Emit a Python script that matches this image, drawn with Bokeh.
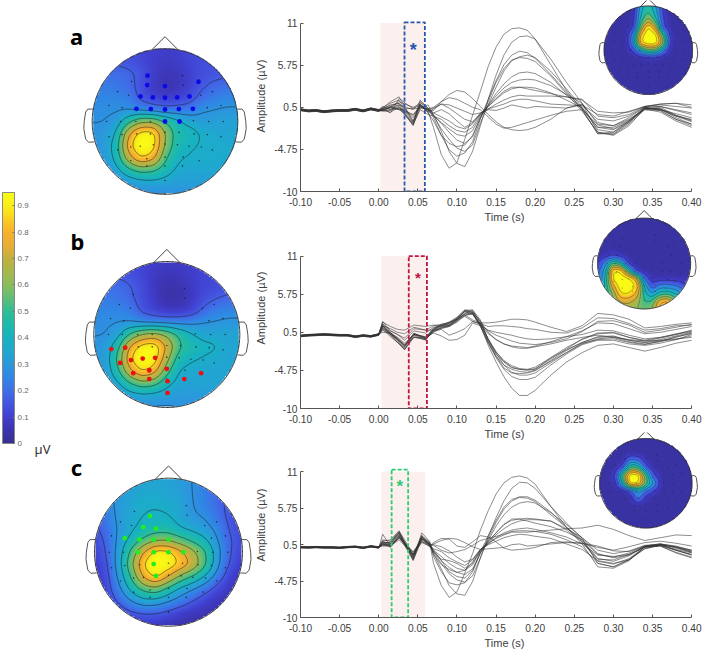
import numpy as np
from bokeh.plotting import figure
from bokeh.layouts import row, column
from bokeh.embed import file_html
from bokeh.resources import INLINE
from bokeh.core.properties import value
from bokeh.models import (Range1d, LinearColorMapper, ColorBar, FixedTicker,
                          NumeralTickFormatter)

# ---------- data ----------
COLOR_STOPS = [0, .05, .1, .15, .2, .25, .3, .35, .4, .45, .5, .55, .6, .65, .7, .75, .8, .85, .9, .95]
COLOR_HEX = ["#35308f", "#3c34b0", "#4040d0", "#4455e0", "#3f6fe8", "#2f88e4", "#2b98dc", "#1fa8cf",
             "#17b3c0", "#1fbaa9", "#2fbd95", "#5fbd78", "#8abd5c", "#a8b74a", "#c0b040", "#e8ae35",
             "#f8b02d", "#fbcf22", "#f9ee18", "#f9fb15"]
CB_TICKS = [0, .1, .2, .3, .4, .5, .6, .7, .8, .9]

MAP_A = [
 [.12,.12,.12,.12,.11,.10,.09,.10,.12,.13,.14,.15,.15],
 [.15,.15,.15,.14,.12,.09,.08,.09,.11,.13,.14,.15,.15],
 [.19,.19,.19,.18,.15,.09,.06,.07,.10,.13,.14,.15,.16],
 [.22,.22,.21,.19,.14,.08,.05,.06,.10,.15,.18,.19,.20],
 [.24,.24,.24,.22,.14,.10,.08,.09,.12,.19,.22,.24,.24],
 [.26,.26,.26,.26,.23,.21,.19,.20,.21,.26,.27,.28,.28],
 [.27,.27,.30,.45,.58,.58,.48,.40,.33,.30,.31,.32,.32],
 [.28,.29,.37,.72,.90,.90,.60,.43,.42,.36,.34,.33,.33],
 [.28,.30,.42,.80,.95,.90,.58,.42,.38,.36,.35,.35,.34],
 [.27,.29,.40,.68,.85,.78,.50,.38,.36,.35,.35,.34,.33],
 [.26,.27,.33,.45,.52,.50,.42,.35,.33,.34,.34,.33,.32],
 [.24,.25,.27,.30,.33,.34,.33,.31,.31,.31,.30,.30,.30],
 [.22,.22,.22,.24,.25,.26,.26,.27,.27,.27,.27,.27,.27]]
MAP_B = [
 [.13,.13,.13,.12,.11,.09,.08,.08,.10,.11,.12,.13,.13],
 [.15,.15,.15,.14,.11,.08,.06,.07,.09,.11,.12,.13,.13],
 [.19,.19,.19,.17,.13,.07,.04,.05,.08,.11,.12,.13,.14],
 [.22,.22,.21,.18,.13,.08,.04,.04,.07,.13,.16,.18,.18],
 [.24,.24,.24,.22,.14,.10,.07,.07,.10,.18,.22,.24,.24],
 [.26,.26,.27,.27,.25,.24,.24,.24,.25,.27,.28,.29,.29],
 [.27,.27,.33,.50,.62,.66,.58,.47,.38,.33,.33,.33,.33],
 [.28,.30,.45,.76,.90,.92,.72,.50,.44,.40,.38,.33,.33],
 [.28,.31,.52,.84,.95,.90,.64,.42,.38,.36,.34,.33,.33],
 [.27,.30,.46,.72,.86,.78,.52,.36,.34,.33,.33,.33,.32],
 [.26,.28,.35,.48,.56,.52,.40,.33,.32,.33,.33,.32,.31],
 [.24,.25,.28,.32,.34,.33,.31,.30,.30,.30,.30,.30,.29],
 [.22,.22,.23,.25,.26,.26,.26,.27,.27,.27,.27,.27,.26]]
MAP_C = [
 [.22,.24,.26,.30,.32,.33,.33,.30,.27,.22,.20,.18,.18],
 [.22,.25,.28,.32,.34,.34,.33,.31,.27,.22,.19,.17,.16],
 [.20,.24,.30,.34,.36,.36,.35,.33,.27,.23,.18,.15,.13],
 [.18,.22,.30,.34,.37,.38,.37,.33,.28,.26,.20,.14,.12],
 [.15,.20,.29,.35,.40,.42,.42,.36,.33,.30,.24,.15,.12],
 [.13,.18,.30,.40,.50,.58,.58,.52,.45,.38,.27,.17,.12],
 [.10,.17,.32,.52,.74,.90,.88,.76,.64,.50,.30,.17,.10],
 [.08,.15,.33,.58,.86,.95,.92,.82,.70,.50,.29,.15,.08],
 [.07,.13,.30,.50,.76,.88,.72,.56,.46,.35,.22,.10,.06],
 [.06,.12,.25,.40,.52,.56,.44,.33,.27,.20,.12,.07,.05],
 [.05,.10,.18,.27,.33,.32,.27,.22,.16,.10,.06,.04,.04],
 [.04,.07,.10,.14,.16,.16,.13,.09,.06,.05,.04,.04,.04],
 [.04,.05,.07,.08,.08,.07,.05,.04,.04,.04,.04,.04,.04]]
INS_A = [
 [.03,.03,.03,.03,.03,.35,.48,.30,.08,.03,.03,.03,.03],
 [.03,.03,.03,.03,.05,.40,.52,.36,.08,.03,.03,.03,.03],
 [.03,.03,.03,.03,.06,.45,.68,.45,.10,.03,.03,.03,.03],
 [.03,.03,.03,.03,.10,.62,.96,.70,.12,.03,.03,.03,.03],
 [.03,.03,.03,.03,.28,.86,.98,.96,.50,.05,.03,.03,.03],
 [.03,.03,.03,.03,.32,.90,.98,.97,.65,.06,.03,.03,.03],
 [.03,.03,.03,.03,.12,.38,.58,.55,.25,.03,.03,.03,.03],
 [.03,.03,.03,.03,.03,.04,.08,.06,.03,.03,.03,.03,.03],
 [.03,.03,.03,.03,.03,.03,.03,.03,.03,.03,.03,.03,.03],
 [.03,.03,.03,.03,.03,.03,.03,.03,.03,.03,.03,.03,.03],
 [.03,.03,.03,.03,.03,.03,.03,.03,.03,.03,.03,.03,.03],
 [.03,.03,.03,.03,.03,.03,.03,.03,.03,.03,.03,.03,.03],
 [.03,.03,.03,.03,.03,.03,.03,.03,.03,.03,.03,.03,.03]]
INS_B = [
 [.03,.03,.03,.03,.03,.03,.03,.03,.03,.03,.03,.03,.03],
 [.03,.03,.03,.03,.03,.03,.03,.03,.03,.03,.03,.03,.03],
 [.03,.03,.03,.03,.03,.03,.03,.03,.03,.03,.03,.03,.03],
 [.03,.03,.03,.03,.03,.03,.03,.03,.03,.03,.03,.03,.03],
 [.03,.03,.03,.03,.03,.03,.03,.03,.03,.03,.03,.03,.03],
 [.03,.06,.10,.05,.03,.03,.03,.03,.03,.03,.03,.03,.03],
 [.10,.25,.55,.40,.05,.03,.03,.03,.03,.03,.03,.03,.03],
 [.15,.35,.92,.90,.45,.06,.03,.03,.03,.03,.03,.03,.03],
 [.18,.40,.95,.98,.96,.75,.18,.05,.05,.05,.05,.05,.04],
 [.20,.42,.76,.98,.98,.90,.40,.12,.25,.25,.22,.15,.05],
 [.20,.38,.62,.90,.90,.78,.45,.30,.45,.48,.40,.30,.20],
 [.20,.38,.56,.72,.72,.65,.50,.50,.78,.84,.60,.40,.25],
 [.20,.38,.50,.60,.65,.60,.55,.60,.84,.85,.60,.40,.25]]
INS_C = [
 [.03,.03,.03,.03,.03,.03,.03,.03,.03,.03,.03,.03,.03],
 [.03,.03,.03,.03,.03,.03,.03,.03,.03,.03,.03,.03,.03],
 [.03,.03,.03,.03,.03,.03,.03,.03,.03,.03,.03,.03,.03],
 [.03,.03,.03,.03,.25,.20,.03,.03,.03,.03,.03,.03,.03],
 [.03,.03,.03,.15,.55,.50,.15,.03,.03,.03,.03,.03,.03],
 [.03,.03,.10,.55,.98,.95,.50,.12,.03,.03,.03,.03,.03],
 [.03,.03,.05,.40,.95,.88,.55,.30,.03,.03,.03,.03,.03],
 [.03,.03,.03,.03,.15,.35,.20,.10,.03,.03,.03,.03,.03],
 [.03,.03,.03,.03,.03,.25,.05,.03,.03,.03,.03,.03,.03],
 [.03,.03,.03,.03,.03,.03,.03,.03,.03,.03,.03,.03,.03],
 [.03,.03,.03,.03,.03,.03,.03,.03,.03,.03,.03,.03,.03],
 [.03,.03,.03,.03,.03,.03,.03,.03,.03,.03,.03,.03,.03],
 [.03,.03,.03,.03,.03,.03,.03,.03,.03,.03,.03,.03,.03]]

# electrode positions, head units
ELEC_U = [-.46,-.65,-.5,-.77,-.59,-.8,-.61,-.4,-.2,-.77,-.59,-.39,-.2,0,.19,.4,.58,.77,.39,.6,.8,.58,.77,.49,.65,.24,.25,
          -.65,-.47,-.34,-.16,0,.17,.33,.5,.65,-.47,-.25,0,.25,.47,-.25,0,.24,0]
ELEC_V = [.55,.41,.36,.22,.19,0,0,0,0,-.21,-.18,-.17,-.17,-.15,-.15,-.17,-.18,-.21,.01,0,0,.19,.22,.36,.41,.63,.5,
          -.39,-.35,-.34,-.32,-.31,-.32,-.34,-.35,-.39,-.54,-.51,-.49,-.49,-.54,-.61,-.61,-.61,-.81]
SIG_A_U = [-.24,-.245,0,.46,-.337,-.167,0,.167,.337,-.392,-.195,0,.19,.383,0,.2]
SIG_A_V = [.63,.5,.486,.546,.344,.33,.326,.33,.344,.174,.17,.165,.17,.174,0,0]
SIG_B_U = [-.76,-.57,-.64,-.49,-.33,-.16,-.46,-.24,-.24,0,.01,.24,.47,.01]
SIG_B_V = [-.2,-.18,-.39,-.35,-.33,-.32,-.53,-.49,-.61,-.47,-.64,-.61,-.53,-.8]
SIG_C_U = [-.25,-.34,-.17,-.59,-.39,-.2,0,-.41,-.2,0,.2,-.2,-.17]
SIG_C_V = [.49,.34,.32,.19,.17,.17,.17,0,0,0,0,-.16,-.32]

PRE_T = [-.10,-.09,-.08,-.07,-.06,-.05,-.04,-.03,-.02,-.01,0.0]
LATE_T = [.07,.08,.09,.10,.11,.12,.13,.14,.15,.16,.17,.18,.19,.20,.22,.24,.26,.28,.30,.32,.34,.36,.38,.40]
EARLY_T_A = [.005,.015,.026,.044,.053,.063]
EARLY_T_B = [.005,.015,.024,.033,.045,.06]
EARLY_T_C = [.005,.015,.026,.044,.055,.065]
YTICKS = [-10, -4.75, 0.5, 5.75, 11]
YTICK_TEXT = ["-10", "-4.75", "0.5", "5.75", "11"]
XTICKS = [-.10,-.05,0,.05,.10,.15,.20,.25,.30,.35,.40]

PRE_A = [.2,.05,.1,-.05,.05,.1,.1,.25,.05,.3,.1]
PRE_B = [0,.1,.15,.2,.15,.1,.1,-.1,.05,-.05,.2]
PRE_C = [.13,.1,.15,.1,.1,.05,.15,.2,.05,.25,.1]
OFF_A = [.1,-.1,.05,-.05,.12,-.12,0,.08,-.08,.03,-.03,.1,-.1,.06]
OFF_B = [.08,-.1,.05,-.05,.1,-.12,0,.06,-.08,.03,-.03,.1,-.06,.04]
OFF_C = [.06,-.08,.05,-.05,.1,-.1,0,.06,-.07,.03,-.03,.08,-.06,.04]

ERP_A = [
 [.4,1.2,1.8,-1.2,.8,0,-2,-5.4,-7.1,-6.4,-3.5,-.5,2.5,5.6,8,9.6,10.3,10.4,10.1,9,5.8,2.6,.2,-2.8,-2.6,-1.2,.4,.2,-.6,-1],
 [.5,1,1.4,-1.3,.6,.2,-.4,-2.5,-5,-6.5,-6.9,-5,-1.8,1.5,4.5,7,8.6,9.3,9.4,9,6.5,3.6,1,-2.6,-3,-1.8,.4,.3,-.8,-1.6],
 [.3,.8,1,-1.4,1.4,.4,-.8,-3,-4.8,-5.6,-5.2,-3.8,-1,1.5,3.8,5.8,7,7.5,7.3,6.6,4.6,2.4,.3,-2.8,-2.8,-1.4,.5,.1,-1,-1.8],
 [.2,.5,.8,-1.7,.4,.8,-.5,-2.2,-3.5,-4.6,-5,-4.2,-1.5,.8,3,5,6.3,6.8,7,6.7,5,2.8,.5,-2.3,-2.6,-1.4,.3,-.1,-1.2,-2],
 [.6,.2,.6,-1.8,.9,-.2,-1.2,-3,-4,-4.4,-4.2,-3,-.8,1.2,3.6,5.3,6.4,6.7,6.6,6.2,4.4,2.2,0,-2.6,-2.9,-1.6,.2,.1,-1,-1.6],
 [.1,-.1,.5,-1.5,1.1,.3,-.5,-1.5,-2.6,-3.6,-4,-3.2,-.8,.8,2.2,3.4,4.3,4.8,4.9,4.7,3.6,2,.4,-2,-2,-1.1,.4,.3,-.5,-1.1],
 [.2,.4,.2,-.5,.6,0,-.5,-1.4,-2.2,-2.9,-3.1,-2.4,-.6,.7,1.9,2.9,3.6,3.9,4,3.9,3.2,2.1,1,-1.6,-1.8,-.8,.5,.6,.1,-.4],
 [0,.2,.8,.2,1.2,.4,-.2,-.7,-1.2,-1.9,-2.2,-1.6,-.3,.6,1.6,2.5,3,3,2.8,2.6,2.2,1.8,1.5,-.6,-.8,-.4,.6,.8,.6,.4],
 [.3,.6,.2,.4,.7,-.1,.3,.9,.4,-.3,-1,-1.3,-.4,.3,.9,1.4,1.8,2,1.9,1.9,1.9,1.8,1.4,0,-.2,-.1,.6,.9,1,.8],
 [.1,.5,1.2,.5,.9,.1,.1,1.2,2.1,2.6,2.4,1.6,.6,-.4,-1.3,-2,-2.3,-2.4,-2.3,-2,-1,.4,.9,-1.4,-1.8,-1,.2,.2,-.3,-.8],
 [.3,-.2,1.6,.3,.4,.3,.5,1.2,1.7,1.5,1,.5,.2,-.7,-1.6,-2.1,-2,-1.7,-1.4,-1.1,-.5,0,.2,-1.7,-2.2,-1.2,.3,.5,-.5,-1.2],
 [.2,.1,.4,-.4,.6,.2,.4,.9,.8,.4,0,-.4,-.2,.2,.1,.4,.8,.6,.4,.6,.5,.4,.8,-.4,-.6,0,.6,.9,1,.5],
 [.4,.7,1,-.8,.8,.2,-.2,.2,-.3,-1.2,-2,-1.4,-.2,.3,.6,.9,1.3,1.5,1.5,1.3,.9,.8,.7,-1,-1.2,-.6,.5,.6,.2,-.2],
 [.1,.5,.3,-1.6,.2,-.4,-.6,-1,-1.8,-2.4,-2.6,-2,-.4,.6,1.5,2.3,2.8,3,3,2.9,2.3,1.4,.4,-2,-2.3,-1.3,.4,.3,-.6,-1.3]]
ERP_B = [
 [1.9,1.3,.9,.8,1.5,1.3,1.5,1.4,1.9,2.4,2.9,2.2,1.8,1.8,1.9,2.1,2.3,2.3,2.2,1.9,1.2,.6,1.4,3.1,2.9,2.3,1.1,1.3,1.6,1.8],
 [1.4,1,.5,.3,1.2,.8,1.4,1.6,1.8,2.2,2.7,2,1.7,1.3,1.4,1.4,1.3,1.2,1,.9,.5,.4,1.1,2.5,2.4,1.7,.8,1,1.4,1.5],
 [1.7,.7,.2,-.3,1,.8,.8,1.4,1.4,2.2,3.5,3.2,1.6,.7,.1,-.3,-.7,-1,-1.1,-1.2,-.9,-.4,.6,2,2.1,1.5,.5,.8,1.2,1.6],
 [2,.7,.2,-.6,.7,.4,1.2,1.4,1.8,2.3,3.4,3.3,2,.5,-.5,-1.1,-1.4,-1.5,-1.6,-1.4,-.8,-.1,.7,1.8,1.7,1,.3,.5,.9,1.3],
 [.5,.4,-.2,-1,.2,-.1,.4,0,-.6,-.5,.1,1.8,1.4,.8,.5,.3,.1,-.2,-.4,-.5,-.4,-.1,.2,.8,.7,.1,-.4,-.2,.2,.6],
 [.8,.2,-.4,-1.3,-.2,-.3,.6,.9,.1,.5,1,2,1.6,.3,-.5,-1.1,-1.5,-1.7,-1.7,-1.5,-1.1,-.6,-.2,.1,-.2,-.5,-.7,-.6,-.4,-.2],
 [1.6,.5,-.5,-1.5,.4,-.3,1,1.4,1.7,2.4,3.5,3.6,2.2,-.5,-2.2,-3.5,-4.3,-4.6,-4.7,-4.6,-3,-1.6,-.5,.3,.4,-.2,-.6,-.2,.3,.7],
 [1.4,.4,-.3,-1.2,.2,-.2,.9,1.6,1.9,2.6,3.6,3.4,2,-.6,-2.5,-3.6,-4.4,-4.6,-4.7,-4.5,-3.2,-1.8,-.4,.4,.5,-.2,-.7,-.3,.2,.8],
 [1.2,.3,-.6,-1.8,-.1,-.5,.7,1.2,1.5,2.2,3.2,3.1,1.6,-.9,-2.8,-4,-4.6,-4.9,-5,-4.7,-3.4,-2,-.9,-.1,0,-.6,-.9,-.5,0,.5],
 [1.5,.1,-.9,-1.9,.1,-.6,.9,1.3,1.4,2.1,3.1,3.5,1.8,-.5,-2.4,-4,-5,-5.4,-5.4,-5.1,-3.7,-2.3,-1.1,-.4,-.2,-.8,-1.1,-.8,-.1,.3],
 [1.1,.2,-.8,-1.9,-.2,-.5,.8,1,1.3,2,2.9,3,1.3,-1,-3,-4.6,-5.6,-6,-6,-5.7,-4,-2.5,-1.2,-.6,-.6,-1.1,-1.3,-1,-.5,.2],
 [.9,-.1,-.9,-1.6,.3,-.4,.7,1.1,1.5,2.3,3,3.2,1.4,-1.3,-3.6,-5.6,-7.2,-8.2,-8.2,-7.5,-5.4,-3.6,-2.3,-1.3,-1.1,-1.6,-2.1,-1.6,-1,-.6],
 [1.3,.4,-.4,-1.3,.3,-.2,1.1,1.5,1.6,2.5,3.4,3,1.4,-.8,-2.8,-4.4,-5.1,-5.2,-5.1,-4.8,-3.5,-2.3,-1,-.5,-.4,-.9,-1.2,-.7,-.2,.4],
 [1,.3,-.5,-1.4,.2,-.4,.5,1.1,1.3,1.9,2.8,3.1,1.6,-.4,-2.2,-3.4,-4.1,-4.5,-4.6,-4.3,-3,-1.9,-.9,-.2,-.1,-.6,-.9,-.7,-.5,0]]
ERP_C = [
 [1.2,1,2.4,-1.2,1.8,.9,-2.2,-5.4,-7.1,-6.3,-3.6,-.8,2.6,5.4,7.8,9.4,10.2,10.4,10.1,9.2,6,3,.6,-2.7,-2.9,-1.8,.2,.3,-.7,-1.4],
 [1,1.2,2.5,-.9,1.5,.8,-.8,-3,-5.4,-6.6,-6.8,-4.8,-1.4,1.7,4.4,6.8,8.6,9.5,9.4,8.6,6,3.6,1.4,-2.2,-2.7,-1.7,.2,.5,-.3,-1],
 [.8,.8,2.3,-1.5,2.2,1,-1.2,-3.4,-5,-5.3,-5,-3.4,-.6,1.8,4,5.9,7,7.4,7.4,6.9,5.2,3,1,-1.9,-2.3,-1.5,.1,.3,-.6,-1.3],
 [.7,.6,2.2,-1.7,1.6,.7,-.6,-2.2,-3.7,-4.6,-4.9,-4,-1.4,1.4,3.7,5.6,6.8,7.3,7.2,6.7,4.8,3,1.2,-1.5,-1.9,-1.1,.2,.5,0,-.6],
 [.4,.3,1.8,-1.8,1.2,.4,-.3,-1.8,-3.4,-4.1,-4.3,-3.2,-.7,1.1,3.2,4.8,5.9,6.5,6.7,6.5,5.1,3.4,1.5,-.8,-1.4,-1,.3,.6,.3,-.3],
 [2,.3,1.6,-1.2,1.8,.4,-.5,-1.8,-2.8,-3.5,-3.8,-3,-.7,.9,2.2,3.4,4,4.2,4.3,4.2,3.9,2.6,.9,-1.6,-1.7,-.9,.2,.4,-.2,-.7],
 [1,.1,1.8,-1,1.4,.3,-.3,-1.2,-2.2,-2.9,-3.2,-2.4,-.4,.7,1.9,2.8,3.5,3.9,4.1,4.1,3.9,2.8,1.5,-.3,-.8,-.4,.4,.6,.2,-.3],
 [.6,.5,1.6,-.6,1.3,.6,-.1,-.5,-1.4,-2,-2.5,-1.7,-.2,.6,1.5,2.2,2.6,2.8,2.9,2.7,2.2,1.6,.6,-1,-1.2,-.9,.1,.4,-.3,-1],
 [.5,.4,1.4,-.5,.9,.5,.5,.2,-.4,-1.3,-2,-1.6,-.2,.5,1,1.5,1.8,2,1.9,1.7,1.4,.6,-.2,-1.8,-2.2,-1.7,-.1,.5,.1,-.6],
 [.3,.3,1.2,-.9,.8,.3,.8,1.4,1.3,.3,.1,.9,1.8,1.6,.9,0,-.3,-.2,-.1,.1,.8,.9,.7,.1,-.3,.2,.8,1,.7,.3],
 [.5,.6,1.9,-1,1.3,.5,.4,-.3,-.7,-.5,-.2,.4,1.1,1.4,1.7,2,2.4,2.5,2.5,2.4,2.6,2.8,2.9,3.3,2.7,1.8,1.1,1.5,1.9,1.8],
 [.6,.2,1.5,-.8,1,.2,.6,1.1,1.4,1.3,.8,.2,-.2,-.1,0,.1,.5,.6,.3,.4,.6,.8,.7,.3,-.4,-.5,.3,.6,.1,-.4],
 [.9,.7,2.1,-1.4,1.6,.6,-.5,-1.6,-1.8,-2.2,-2.9,-2.2,-.3,1,2.2,3.4,4.2,4.2,3.9,3.6,3.1,2.3,1.2,-.9,-1.3,-.7,.3,.5,.2,-.5],
 [.7,.9,2.2,-1.6,1.4,.6,-.9,-2.4,-3.1,-3.5,-3.2,-2,-.2,.7,1.4,1.9,2.3,2.3,2.3,2.4,2,1.2,.2,-2.2,-2.7,-1.6,-.1,.4,-.3,-.9]]

# ---------- helpers ----------
_rgb = np.array([[int(h[i:i+2], 16) for i in (1, 3, 5)] for h in COLOR_HEX], float)
_pos = np.linspace(0, .95, 256)
PALETTE = ["#%02x%02x%02x" % tuple(int(round(np.interp(q, COLOR_STOPS, _rgb[:, k]))) for k in range(3)) for q in _pos]
mapper = LinearColorMapper(palette=PALETTE, low=0, high=.95, nan_color="rgba(0,0,0,0)")

N = 201
def smooth_field(grid, sigma):
    g = np.array(grid, float)[::-1]
    c = np.linspace(-1, 1, g.shape[0])
    q = np.linspace(-1, 1, N)
    z = np.array([np.interp(q, c, r) for r in g])
    z = np.array([np.interp(q, c, z[:, j]) for j in range(N)]).T
    s = sigma / (2 / (N - 1))
    hw = int(3 * s)
    k = np.exp(-.5 * (np.arange(-hw, hw + 1) / s) ** 2)
    k /= k.sum()
    for ax in (0, 1):
        z = np.apply_along_axis(lambda v: np.convolve(np.pad(v, hw, mode="edge"), k, "valid"), ax, z)
    lo = g.min()
    z = lo + (z - lo) * (g.max() - lo) / (z.max() - lo)
    uu, vv = np.meshgrid(q, q)
    z[uu ** 2 + vv ** 2 > 1.0] = np.nan
    return q, z

EAR_U = [.98, 1.06, 1.09, 1.11, 1.115, 1.09, 1.05, .97]
EAR_V = [.17, .17, .13, 0, -.1, -.24, -.285, -.28]

def topo(p, fx, fy, grid, levels, sigma, line_alpha, sig=None, sig_color=None, dot=1.6, dot_alpha=.7, lw=1.0):
    q, z = smooth_field(grid, sigma)
    x0, x1, y0, y1 = fx(-1), fx(1), fy(-1), fy(1)
    p.image(image=[z], x=x0, y=y0, dw=x1 - x0, dh=y1 - y0, color_mapper=mapper)
    p.contour(fx(q), fy(q), np.ma.masked_invalid(z), levels, fill_color=None,
              line_color="#1a1a1a", line_width=.7, line_alpha=line_alpha)
    th = np.linspace(0, 2 * np.pi, 361)
    p.line(fx(np.cos(th)), fy(np.sin(th)), line_color="#333333", line_width=lw)
    for sgn in (-1, 1):
        p.line(fx(sgn * np.array(EAR_U)), fy(np.array(EAR_V)), line_color="#555555", line_width=1)
    p.line(fx(np.array([-.18, 0, .18])), fy(np.array([.985, 1.165, .985])), line_color="#444444", line_width=1)
    p.scatter(fx(np.array(ELEC_U)), fy(np.array(ELEC_V)), size=dot, color="#111111", alpha=dot_alpha, line_width=0)
    if sig is not None:
        p.scatter(fx(np.array(sig[0])), fy(np.array(sig[1])), size=4.8, color=sig_color, line_width=0)

LEFT_W = 252
TOTAL_W = 708

def erp_panel(top_px, bottom_border, frame_left, frame_right, y11, ym10, early_t, pre, off, lines,
              shade, box, box_color, box_top, star_xy, star_size, ins, ins_geo, ins_levels, margin_top):
    height = int(ym10 - top_px + bottom_border)
    px_per_x = (frame_right - frame_left) / .5
    x_end = .4 + (TOTAL_W - frame_right) / px_per_x
    per_unit = (ym10 - y11) / 21.0
    y_end = -10 + (ym10 - top_px) / per_unit
    p = figure(width=TOTAL_W - LEFT_W, height=height, output_backend="svg", toolbar_location=None,
               x_range=Range1d(-.1, x_end), y_range=Range1d(-10, y_end),
               min_border_left=int(frame_left - LEFT_W), min_border_right=0, min_border_top=0,
               min_border_bottom=bottom_border, margin=(margin_top, 0, 0, 0),
               background_fill_alpha=0, border_fill_alpha=0, outline_line_color=None)
    p.grid.visible = False
    for ax in (p.xaxis[0], p.yaxis[0]):
        ax.major_tick_in = 3; ax.major_tick_out = 0; ax.minor_tick_line_color = None
        ax.axis_line_color = "#555555"; ax.major_tick_line_color = "#555555"
        ax.major_label_text_font = "Liberation Sans"; ax.major_label_text_font_size = "10.2px"
        ax.major_label_text_color = "#404040"; ax.axis_label_text_font = "Liberation Sans"
        ax.axis_label_text_font_size = "11px"; ax.axis_label_text_font_style = "normal"
        ax.axis_label_text_color = "#404040"
    p.xaxis[0].bounds = (-.1, .4); p.yaxis[0].bounds = (-10, 11)
    p.xaxis[0].ticker = FixedTicker(ticks=XTICKS)
    p.xaxis[0].formatter = NumeralTickFormatter(format="0.00")
    p.xaxis[0].axis_label = "Time (s)"; p.xaxis[0].axis_label_standoff = 2
    p.xaxis[0].major_label_standoff = 6
    p.yaxis[0].ticker = FixedTicker(ticks=YTICKS)
    p.yaxis[0].major_label_overrides = dict(zip(YTICKS, YTICK_TEXT))
    p.yaxis[0].axis_label = "Amplitude (µV)"; p.yaxis[0].axis_label_standoff = 4
    p.yaxis[0].major_label_standoff = 3

    p.quad(left=shade[0], right=shade[1], bottom=-10, top=11, fill_color="#fbf0ee", line_color=None)
    t = np.array(PRE_T + early_t + LATE_T)
    for i, l in enumerate(lines):
        y = np.concatenate([np.array(pre) + off[i], np.array(l)])
        p.line(t, y, line_color="#333333", line_width=.75, line_alpha=.75)
    p.quad(left=box[0], right=box[1], bottom=-10, top=box_top, fill_color=None,
           line_color=box_color, line_width=1.8, line_dash="4 2")
    p.text(x=[star_xy[0]], y=[star_xy[1]], text=["*"], text_color=box_color, text_align="center",
           text_baseline="middle", text_font_size=star_size, text_font=value("Liberation Sans"),
           text_font_style="bold")
    cx, cy, r = ins_geo
    fx = lambda u: -.1 + (cx + r * np.asarray(u, float) - frame_left) / px_per_x
    fy = lambda v: -10 + (ym10 - (cy - r * np.asarray(v, float))) / per_unit
    topo(p, fx, fy, ins, ins_levels, .045, .5, dot=1.2, dot_alpha=.45, lw=1)
    return p

# ---------- left column ----------
left = figure(width=LEFT_W, height=651, output_backend="svg", toolbar_location=None,
              x_range=Range1d(0, LEFT_W), y_range=Range1d(0, 651), min_border=0,
              background_fill_alpha=0, border_fill_alpha=0, outline_line_color=None)
left.axis.visible = False
left.grid.visible = False
def fxy(cx, cy, r):
    return (lambda u: cx + r * np.asarray(u, float)), (lambda v: 651 - (cy - r * np.asarray(v, float)))
LEV = [.17, .28, .38, .5, .62, .75, .86]
fx, fy = fxy(164.5, 121, 72.8)
topo(left, fx, fy, MAP_A, LEV, .05, .75, (SIG_A_U, SIG_A_V), "#0a0ae6")
fx, fy = fxy(166.3, 334, 73)
topo(left, fx, fy, MAP_B, LEV, .05, .75, (SIG_B_U, SIG_B_V), "#ee1111")
fx, fy = fxy(168, 551.7, 74)
topo(left, fx, fy, MAP_C, LEV, .05, .75, (SIG_C_U, SIG_C_V), "#22ee22")
for lab, lx, ly in (("a", 76, 35), ("b", 77, 240), ("c", 76, 466)):
    left.text(x=[lx], y=[651 - ly], text=[lab], text_font=value("Noto Sans"), text_font_style="bold",
              text_font_size="22px", text_color="#000000", text_align="center", text_baseline="middle")
left.text(x=[42], y=[651 - 448], text=["µV"], text_font=value("Noto Sans"), text_font_size="13px",
          text_color="#333333", text_align="center", text_baseline="middle")
cb = ColorBar(color_mapper=mapper, ticker=FixedTicker(ticks=CB_TICKS), width=12, height=251,
              location=(2, 208), padding=0, margin=0, background_fill_alpha=0,
              major_label_text_font_size="8px", major_label_text_color="#666666",
              major_label_text_font="Liberation Sans", major_tick_line_color="#777777",
              major_tick_in=2, minor_tick_line_color=None, bar_line_color="#888888", label_standoff=3)
left.add_layout(cb)

# ---------- ERP panels ----------
LV = [.1, .2, .3, .4, .5, .6, .7, .8, .9]
p_a = erp_panel(0, 33, 298, 691, 22.7, 192, EARLY_T_A, PRE_A, OFF_A, ERP_A, (.002, .059), (.033, .059), "#2a55b0", 11.1,
                (.044, 7.7), "18px", INS_A, (647.5, 50, 44.5), LV, 0)
p_b = erp_panel(207, 27, 296, 691, 257.3, 415, EARLY_T_B, PRE_B, OFF_B, ERP_B, (.0034, .0616), (.0384, .0616), "#c3143c", 11,
                (.05, 8.1), "15px", INS_B, (643, 265, 47), LV, -18)
p_c = erp_panel(432, 26, 296, 691, 473, 625, EARLY_T_C, PRE_C, OFF_C, ERP_C, (.0034, .0595), (.0165, .0376), "#2ecb70", 11.3,
                (.027, 8.9), "17px", INS_C, (644.7, 485, 46.7), LV, -10)

layout = row(left, column(p_a, p_b, p_c, spacing=0), spacing=0, margin=0)
open("out.html", "w").write(file_html(layout, INLINE))
